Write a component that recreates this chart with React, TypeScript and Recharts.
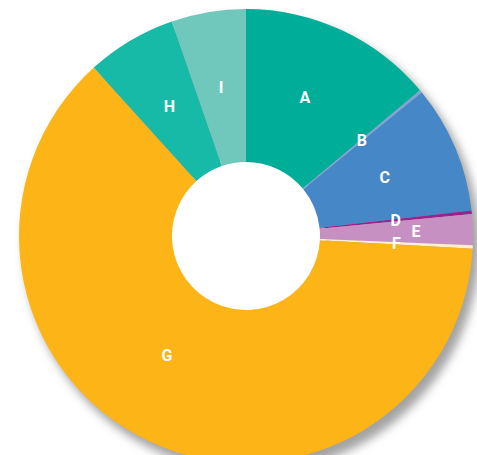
import { PieChart, Pie, Cell } from "recharts";

document.body.style.margin = "0";

const categories = ["A", "B", "C", "D", "E", "F", "G", "H", "I"];
const values = [13.9, 0.2, 9.1, 0.25, 2.2, 0.25, 62.4, 6.4, 5.3];
const colors = [
  "#00ad99",
  "#7ea5d6",
  "#4587c7",
  "#9c208f",
  "#c690c2",
  "#fcefcc",
  "#fcb416",
  "#17b9a7",
  "#70c8bd",
];

const data = categories.map((name, i) => ({ name, value: values[i] }));

const RAD = Math.PI / 180;

// small nudges so labels sit where the original has them
const labelRadius: Record<string, number> = { E: 1.13, G: 0.95 };
const labelAngle: Record<string, number> = { A: 2, G: -8 };

function renderLabel(props: any) {
  const { cx, cy, midAngle, innerRadius, outerRadius, name } = props;
  const r = ((innerRadius + outerRadius) / 2) * (labelRadius[name] ?? 1);
  const a = (midAngle + (labelAngle[name] ?? 0)) * RAD;
  const x = cx + r * Math.cos(-a);
  const y = cy + r * Math.sin(-a);
  return (
    <text
      x={x}
      y={y}
      fill="#ffffff"
      textAnchor="middle"
      dominantBaseline="central"
      style={{ fontFamily: "Roboto, sans-serif", fontWeight: 700, fontSize: 16 }}
    >
      {name}
    </text>
  );
}

export default function App() {
  return (
    <div style={{ width: 477, height: 455, position: "relative", background: "#fff" }}>
      <svg width={0} height={0} style={{ position: "absolute" }}>
        <defs>
          <filter id="discShadow" x="-20%" y="-20%" width="140%" height="140%">
            <feGaussianBlur stdDeviation="5" />
          </filter>
        </defs>
      </svg>
      <PieChart width={477} height={455} margin={{ top: 0, right: 0, bottom: 0, left: 0 }}>
        <Pie
          data={[{ name: "shadow", value: 1 }]}
          dataKey="value"
          cx={252}
          cy={244}
          outerRadius={228}
          startAngle={90}
          endAngle={-270}
          stroke="none"
          isAnimationActive={false}
        >
          <Cell fill="#999999" fillOpacity={0.9} filter="url(#discShadow)" />
        </Pie>
        <Pie
          data={[{ name: "hole", value: 1 }]}
          dataKey="value"
          cx={246}
          cy={236}
          outerRadius={80}
          startAngle={90}
          endAngle={-270}
          stroke="none"
          isAnimationActive={false}
        >
          <Cell fill="#ffffff" />
        </Pie>
        <Pie
          data={data}
          dataKey="value"
          nameKey="name"
          cx={246}
          cy={236}
          innerRadius={74}
          outerRadius={227}
          startAngle={90}
          endAngle={-270}
          paddingAngle={0}
          stroke="none"
          label={renderLabel}
          labelLine={false}
          isAnimationActive={false}
        >
          {data.map((d, i) => (
            <Cell key={d.name} fill={colors[i]} />
          ))}
        </Pie>
      </PieChart>
    </div>
  );
}
